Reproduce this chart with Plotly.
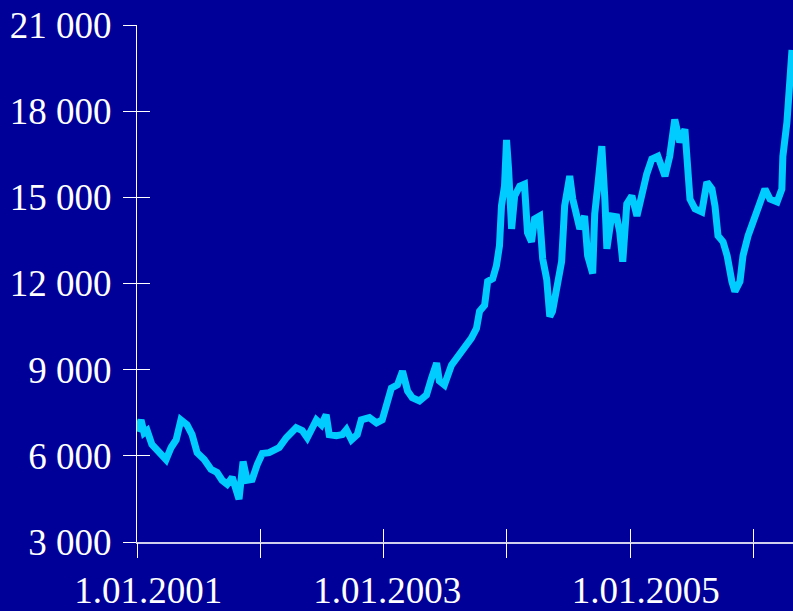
import plotly.graph_objects as go

dates = [
    "2001-01-01", "2001-01-13", "2001-01-22", "2001-01-31", "2001-02-14", "2001-03-07",
    "2001-03-28", "2001-04-12", "2001-04-27", "2001-05-11", "2001-05-29", "2001-06-13",
    "2001-06-28", "2001-07-19", "2001-08-08", "2001-08-26", "2001-09-10", "2001-09-25",
    "2001-10-10", "2001-10-30", "2001-11-11", "2001-11-23", "2001-12-08", "2001-12-23",
    "2002-01-07", "2002-01-27", "2002-02-26", "2002-03-19", "2002-04-17", "2002-05-05",
    "2002-05-20", "2002-06-16", "2002-07-01", "2002-07-15", "2002-07-24", "2002-08-14",
    "2002-09-01", "2002-09-13", "2002-09-28", "2002-10-15", "2002-10-27", "2002-11-20",
    "2002-12-11", "2002-12-28", "2003-01-09", "2003-01-24", "2003-02-11", "2003-02-26",
    "2003-03-13", "2003-03-27", "2003-04-17", "2003-05-08", "2003-05-23", "2003-06-07",
    "2003-06-15", "2003-06-30", "2003-07-21", "2003-08-14", "2003-08-29", "2003-09-18",
    "2003-10-03", "2003-10-12", "2003-10-27", "2003-11-05", "2003-11-20", "2003-12-01",
    "2003-12-10", "2003-12-16", "2003-12-25", "2003-12-31", "2004-01-06", "2004-01-15",
    "2004-01-24", "2004-02-08", "2004-02-22", "2004-03-02", "2004-03-14", "2004-03-23",
    "2004-04-07", "2004-04-16", "2004-04-28", "2004-05-07", "2004-05-15", "2004-05-30",
    "2004-06-11", "2004-06-20", "2004-07-05", "2004-07-14", "2004-07-26", "2004-08-04",
    "2004-08-18", "2004-08-27", "2004-09-11", "2004-09-17", "2004-09-26", "2004-10-08",
    "2004-10-17", "2004-10-23", "2004-11-06", "2004-11-21", "2004-11-30", "2004-12-09",
    "2004-12-21", "2005-01-05", "2005-01-20", "2005-02-03", "2005-02-18", "2005-03-05",
    "2005-03-23", "2005-04-13", "2005-04-27", "2005-05-12", "2005-05-27", "2005-06-11",
    "2005-06-17", "2005-06-26", "2005-07-11", "2005-07-31", "2005-08-15", "2005-08-30",
    "2005-09-08", "2005-09-17", "2005-10-02", "2005-10-14", "2005-10-28", "2005-11-06",
    "2005-11-21", "2005-11-30", "2005-12-15", "2006-01-04", "2006-01-19", "2006-02-03",
    "2006-02-18", "2006-03-11", "2006-03-25", "2006-03-28", "2006-04-09", "2006-04-18",
    "2006-04-24",
]

values = [
    6850, 7250, 6800, 6880, 6400, 6100,
    5870, 6290, 6560, 7250, 7080, 6740,
    6110, 5870, 5530, 5420, 5150, 5010,
    5250, 4490, 5800, 5150, 5180, 5700,
    6080, 6110, 6290, 6630, 6980, 6880,
    6630, 7250, 7080, 7430, 6740, 6700,
    6740, 6910, 6560, 6740, 7250, 7330,
    7150, 7250, 7850, 8360, 8470, 8950,
    8260, 8020, 7910, 8120, 8710, 9230,
    8610, 8470, 9160, 9510, 9750, 10100,
    10440, 11030, 11240, 12070, 12170, 12620,
    13310, 14700, 15390, 17000, 15980, 13900,
    15050, 15390, 15460, 13770, 13450, 14250,
    14350, 12860, 12140, 10850, 11030, 12170,
    12760, 14700, 15740, 14940, 14250, 13900,
    14350, 12970, 12350, 14420, 15390, 16780,
    14940, 13210, 14350, 14320, 13800, 12760,
    14770, 15050, 14350, 15110, 15810, 16330,
    16430, 15740, 16430, 17710, 16920, 17370,
    16430, 14940, 14600, 14490, 15530, 15290,
    14700, 13660, 13450, 12970, 12070, 11720,
    12070, 12970, 13660, 14350, 14700, 15290,
    14940, 14840, 15290, 16430, 17610, 19100,
    20130,
]

# year ticks (cross ticks) and the date labels (placed a little right of their ticks, as in the original)
x_tick_vals = ["2001-01-01", "2002-01-01", "2003-01-01", "2004-01-01", "2005-01-01", "2006-01-01"]
x_label_pos = ["2001-02-03", "2003-01-12", "2005-02-15"]
x_label_text = ["1.01.2001", "1.01.2003", "1.01.2005"]
y_tick_vals = [3000, 6000, 9000, 12000, 15000, 18000, 21000]

bg = "#000099"
line_color = "#00CCFF"
font = dict(family="Liberation Serif, Times New Roman, serif", size=37, color="white")

x_range = ["2001-01-01", "2006-04-27"]
y_range = [3000, 21000]

fig = go.Figure()
fig.add_trace(go.Scatter(
    x=dates, y=values, mode="lines",
    line=dict(color=line_color, width=7),
    hoverinfo="skip", showlegend=False, cliponaxis=False,
))
# invisible traces on overlay axes (they only carry the two halves of the cross ticks)
for xa in ("x2", "x3"):
    fig.add_trace(go.Scatter(
        x=dates, y=values, mode="lines", xaxis=xa, yaxis="y2",
        line=dict(color=line_color, width=0), opacity=0,
        hoverinfo="skip", showlegend=False,
    ))

tick_common = dict(tickwidth=1, tickcolor="white", showgrid=False, zeroline=False)

fig.update_layout(
    width=793, height=611,
    margin=dict(l=137, r=0, t=25, b=66),
    paper_bgcolor=bg, plot_bgcolor=bg,
    separators=". ",
    font=font,
    showlegend=False,
    xaxis=dict(
        type="date", range=x_range,
        tickmode="array", tickvals=x_label_pos, ticktext=x_label_text,
        ticks="outside", ticklen=15, tickcolor="rgba(0,0,0,0)",
        showline=True, linecolor="#d0d0ee", linewidth=1.5,
        showgrid=False, zeroline=False, tickfont=font,
    ),
    xaxis2=dict(
        type="date", range=x_range, overlaying="x", anchor="y2", side="bottom",
        tickmode="array", tickvals=x_tick_vals,
        ticks="outside", ticklen=15, showticklabels=False, showline=False,
        **tick_common,
    ),
    xaxis3=dict(
        type="date", range=x_range, overlaying="x", anchor="y2", side="bottom",
        tickmode="array", tickvals=x_tick_vals,
        ticks="inside", ticklen=13, showticklabels=False, showline=False,
        **tick_common,
    ),
    yaxis=dict(
        range=y_range,
        tickmode="array", tickvals=y_tick_vals, tickformat=",d",
        ticks="outside", ticklen=13,
        showline=True, linecolor="white", linewidth=1,
        tickfont=font, ticklabelstandoff=4,
        **tick_common,
    ),
    yaxis2=dict(
        range=y_range, overlaying="y", anchor="x2", side="left",
        tickmode="array", tickvals=y_tick_vals,
        ticks="inside", ticklen=13, showticklabels=False, showline=False,
        **tick_common,
    ),
)

fig.write_html(
    "out.html",
    config={"displayModeBar": False},
    post_script="document.body.style.margin='0';document.body.style.background='#000099';"
                "document.documentElement.style.overflow='hidden';",
)
